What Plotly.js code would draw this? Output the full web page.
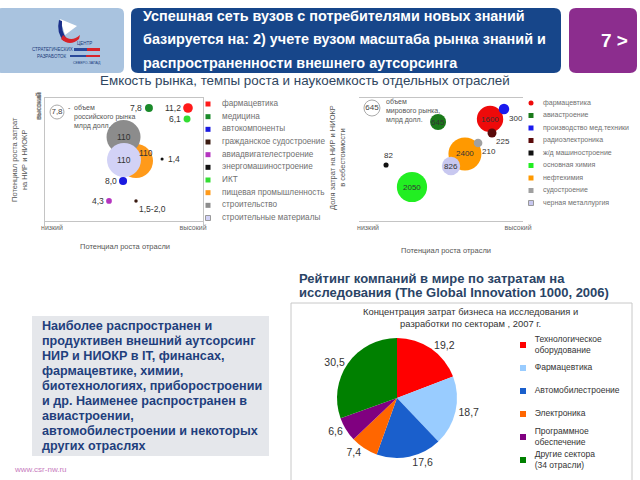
<!DOCTYPE html>
<html><head><meta charset="utf-8">
<script src="https://cdn.plot.ly/plotly-3.0.1.min.js"></script>
<style>html,body{margin:0;padding:0;background:#fff}#chart{width:640px;height:480px}</style>
</head><body><div id="chart"></div>
<script>
// ---------- Chart 1: Russian market ----------
const ruIndustries = ['фармацевтика','медицина','автокомпоненты','гражданское судостроение','авиадвигателестроение','энергомашиностроение','ИКТ','пищевая промышленность','строительство','строительные материалы'];
const ruGrowth = [9.05, 6.58, 4.94, 5.76, 4.05, 7.41, 8.99, 5.76, 4.97, 5.00];
const ruRnd    = [9.19, 9.19, 3.25, 1.63, 1.63, 5.04, 8.29, 4.88, 6.83, 4.96];
const ruMarket = [11.2, 7.8, 8.0, 1.75, 4.3, 1.4, 6.1, 110, 110, 110];
const ruLabels = ['11,2','7,8','8,0','1,5-2,0','4,3','1,4','6,1','110','110','110'];
const ruSample = 7.8;

// ---------- Chart 2: world market ----------
const wIndustries = ['фармацевтика','авиастроение','производство мед.техники','радиоэлектроника','ж/д машиностроение','основная химия','нефтехимия','судостроение','черная металлургия'];
const wGrowth = [7.99, 4.82, 8.84, 8.11, 1.65, 3.23, 6.46, 7.26, 5.61];
const wRnd    = [8.32, 8.09, 9.08, 7.25, 4.81, 3.13, 5.65, 6.49, 4.73];
const wMarket = [1600, 645, 300, 225, 82, 2050, 2400, 210, 826];
const wSample = 645;

// ---------- Pie: business R&D by sector, 2007 ----------
const sectors = ['Технологическое<br>оборудование','Фармацевтика','Автомобилестроение','Электроника','Программное<br>обеспечение','Другие сектора<br>(34 отрасли)'];
const sectorShare = [19.2, 18.7, 17.6, 7.4, 6.6, 30.5];

// ---------- texts ----------
const headerLines = ['Успешная сеть вузов с потребителями новых знаний','базируется на: 2) учете вузом масштаба рынка знаний и','распространенности внешнего аутсорсинга'];
const boxLines = ['Наиболее распространен и','продуктивен внешний аутсорсинг','НИР и НИОКР в IT, финансах,','фармацевтике, химии,','биотехнологиях, приборостроении','и др. Наименее распространен в','авиастроении,','автомобилестроении и некоторых','других отраслях'];
const rightTitle = ['Рейтинг компаний в мире по затратам на','исследования (The Global Innovation 1000, 2006)'];

// ---------- styles ----------
const ruColors = ['#ff1a1a','#1a8a2a','#1a1ae0','#3a1a10','#b535c0','#111111','#33dd33','#ff9a1a','#8c8c8c','#d2d2f6'];
const ruLabelPos = ['l','l','l','br','l','r','l','ne','c','c'];
const wColors = ['#ee0a0a','#1a7a1a','#1a1aee','#5a0a0a','#111111','#22ee22','#ff9900','#a0a0a0','#c8c8f0'];
const wLabelPos = ['c','c','br','br','t','c','c','br','c'];
const pieColors = ['#ff0000','#99ccff','#1a5fcc','#ff6600','#800080','#008000'];

const FONT = 'Liberation Sans, Arial, sans-serif';
const W = 640, H = 480;
const px = x => x / W, py = y => 1 - y / H;
const size1 = v => 2.56 * Math.pow(v, 0.55);
const size2 = v => 0.456 * Math.pow(v, 0.55);

function rrect(x0, y0, x1, y1, r) {
  return `M${px(x0 + r)},${py(y0)} L${px(x1 - r)},${py(y0)} Q${px(x1)},${py(y0)} ${px(x1)},${py(y0 + r)} ` +
    `L${px(x1)},${py(y1 - r)} Q${px(x1)},${py(y1)} ${px(x1 - r)},${py(y1)} L${px(x0 + r)},${py(y1)} ` +
    `Q${px(x0)},${py(y1)} ${px(x0)},${py(y1 - r)} L${px(x0)},${py(y0 + r)} Q${px(x0)},${py(y0)} ${px(x0 + r)},${py(y0)} Z`;
}
function pathPx(cmds) {
  return cmds.map(c => c[0] + (c.length > 1 ? ' ' + c.slice(1).reduce((a, v, i) => a + (i % 2 === 0 ? px(v) : ',' + py(v) + ' '), '') : '')).join(' ');
}
function ann(text, x, y, size, color, opts) {
  return Object.assign({text: text, x: px(x), y: py(y), xref: 'paper', yref: 'paper', showarrow: false,
    xanchor: 'center', yanchor: 'middle', align: 'left', font: {family: FONT, size: size, color: color}}, opts || {});
}

function bubbleLabels(xs, ys, labels, vals, pos, sizeFn, xr, yr, fsize) {
  return labels.map((t, i) => {
    const r = sizeFn(vals[i]) / 2;
    const a = {x: xs[i], y: ys[i], xref: xr, yref: yr, text: t, showarrow: false,
      font: {family: FONT, size: fsize, color: '#333'}, xanchor: 'center', yanchor: 'middle'};
    const p = pos[i];
    if (p === 'l') { a.xanchor = 'right'; a.xshift = -(r + 0.5); }
    else if (p === 'r') { a.xanchor = 'left'; a.xshift = r + 2; }
    else if (p === 'br') { a.xanchor = 'left'; a.yanchor = 'top'; a.xshift = 0.5 * r; a.yshift = -0.5 * r; }
    else if (p === 't') { a.yanchor = 'bottom'; a.yshift = r; a.xshift = 2; }
    else if (p === 'ne') { a.xshift = 0.6 * r; a.yshift = 0.45 * r; }
    return a;
  });
}

const idx = arr => arr.map((_, i) => i);

const traces = [
  {type: 'scatter', mode: 'markers', x: ruGrowth, y: ruRnd, xaxis: 'x', yaxis: 'y', cliponaxis: false, hoverinfo: 'skip',
   marker: {size: ruMarket.map(size1), color: ruColors, opacity: 1, line: {width: 0}}},
  {type: 'scatter', mode: 'markers+text', x: [0.76], y: [8.86], xaxis: 'x', yaxis: 'y', cliponaxis: false, hoverinfo: 'skip',
   text: [String(ruSample).replace('.', ',')], textposition: 'middle center', textfont: {family: FONT, size: 8, color: '#444'},
   marker: {size: 14, color: '#fff', line: {color: '#aaa', width: 1}}},
  {type: 'scatter', mode: 'markers', x: wGrowth, y: wRnd, xaxis: 'x2', yaxis: 'y2', cliponaxis: false, hoverinfo: 'skip',
   marker: {size: wMarket.map(size2), color: wColors, opacity: 1, line: {width: 0}}},
  {type: 'scatter', mode: 'markers+text', x: [0.79], y: [9.16], xaxis: 'x2', yaxis: 'y2', cliponaxis: false, hoverinfo: 'skip',
   text: [String(wSample)], textposition: 'middle center', textfont: {family: FONT, size: 8, color: '#444'},
   marker: {size: 16, color: '#fff', line: {color: '#aaa', width: 1}}},
  // legend 1
  {type: 'scatter', mode: 'markers', x: ruIndustries.map(() => 0), y: idx(ruIndustries), xaxis: 'x3', yaxis: 'y3', cliponaxis: false, hoverinfo: 'skip',
   marker: {symbol: 'square', size: 5, color: ruColors, line: {color: '#999', width: ruColors.map((c, i) => i === ruColors.length - 1 ? 1 : 0)}}},
  {type: 'scatter', mode: 'text', x: ruIndustries.map(() => 1.15), y: idx(ruIndustries), xaxis: 'x3', yaxis: 'y3', cliponaxis: false, hoverinfo: 'skip',
   text: ruIndustries, textposition: 'middle right', textfont: {family: FONT, size: 8.2, color: '#707070'}},
  // legend 2
  {type: 'scatter', mode: 'markers', x: wIndustries.map(() => 0), y: idx(wIndustries), xaxis: 'x4', yaxis: 'y4', cliponaxis: false, hoverinfo: 'skip',
   marker: {symbol: wIndustries.map((_, i) => i === 0 ? 'circle' : 'square'), size: 5, color: wColors,
            line: {color: '#999', width: wColors.map((c, i) => i === wColors.length - 1 ? 1 : 0)}}},
  {type: 'scatter', mode: 'text', x: wIndustries.map(() => 1.1), y: idx(wIndustries), xaxis: 'x4', yaxis: 'y4', cliponaxis: false, hoverinfo: 'skip',
   text: wIndustries, textposition: 'middle right', textfont: {family: FONT, size: 7, color: '#707070'}},
  // pie
  {type: 'pie', values: sectorShare, labels: sectors, sort: false, direction: 'clockwise', rotation: 0,
   marker: {colors: pieColors, line: {width: 0}}, textposition: 'outside', texttemplate: '%{value:.1f}',
   textfont: {family: FONT, size: 10.5, color: '#333'}, hoverinfo: 'skip', showlegend: false,
   domain: {x: [px(337), px(457)], y: [py(458), py(338)]}},
  // legend 3
  {type: 'scatter', mode: 'markers', x: sectors.map(() => 0), y: idx(sectors), xaxis: 'x5', yaxis: 'y5', cliponaxis: false, hoverinfo: 'skip',
   marker: {symbol: 'square', size: 6, color: pieColors}},
  {type: 'scatter', mode: 'text', x: sectors.map(() => 1.0), y: idx(sectors), xaxis: 'x5', yaxis: 'y5', cliponaxis: false, hoverinfo: 'skip',
   text: sectors, textposition: 'middle right', textfont: {family: FONT, size: 8.5, color: '#333'}}
];

const boxAxis = {showgrid: false, zeroline: false, showline: true, mirror: true, linecolor: '#c4c4c4', linewidth: 1,
  ticks: '', tickfont: {family: FONT, size: 7, color: '#666'}, fixedrange: true};
const hidden = {visible: false, fixedrange: true};

const annotations = []
  .concat(headerLines.map((t, i) => ann('<b>' + t + '</b>', 141, 16 + 23.5 * i, 14.4, '#fff', {xanchor: 'left'})))
  .concat([
    ann('<b>7 ></b>', 614, 40, 19, '#fff'),
    ann('Емкость рынка, темпы роста и наукоемкость отдельных отраслей', 305, 81, 13.4, '#2f4660'),
    ann('ЦЕНТР', 84, 43, 4.5, '#1a3a7a'),
    ann('СТРАТЕГИЧЕСКИХ', 52, 50, 4.5, '#1a3a7a'),
    ann('РАЗРАБОТОК', 52, 56, 4.5, '#1a3a7a'),
    ann('СЕВЕРО-ЗАПАД', 87, 63, 3.5, '#1a3a7a'),
    // chart 1 texts
    ann('-', 66, 108, 7, '#555', {xanchor: 'left'}),
    ann('объем<br>российского рынка<br>млрд долл.', 72, 117, 7, '#555', {xanchor: 'left'}),
    ann('Потенциал роста отрасли', 125, 247, 7.5, '#555'),
    ann('Потенциал роста затрат<br>на НИР и НИОКР', 20, 160, 7.5, '#555', {textangle: -90, align: 'center'}),
    // chart 2 texts
    ann('объем<br>мирового рынка,<br>млрд долл.', 384, 111, 7, '#555', {xanchor: 'left'}),
    ann('Потенциал роста отрасли', 446, 250, 7.5, '#555'),
    ann('Доля затрат на НИР и НИОКР<br>в себестоимости', 338, 158, 7.5, '#555', {textangle: -90, align: 'center'}),
    ann('www.csr-nw.ru', 12, 469, 8, '#c77bbd', {xanchor: 'left'}),
    ann('Концентрация затрат бизнеса на исследования и<br>разработки по секторам , 2007 г.', 470, 317, 9.4, '#333', {align: 'center'})
  ])
  .concat(boxLines.map((t, i) => ann('<b>' + t + '</b>', 40, 326 + 15 * i, 12.6, '#1f3f7d', {xanchor: 'left'})))
  .concat(rightTitle.map((t, i) => ann('<b>' + t + '</b>', 297, 278 + 14 * i, 13, '#2a4466', {xanchor: 'left'})))
  .concat(bubbleLabels(ruGrowth, ruRnd, ruLabels, ruMarket, ruLabelPos, size1, 'x', 'y', 8.5))
  .concat(bubbleLabels(wGrowth, wRnd, wMarket.map(String), wMarket, wLabelPos, size2, 'x2', 'y2', 8));

const shapes = [
  {type: 'path', path: rrect(-4, 8, 124, 73, 6), xref: 'paper', yref: 'paper', fillcolor: '#a9c3df', line: {width: 0}},
  {type: 'path', path: rrect(131, 8, 561, 73, 7), xref: 'paper', yref: 'paper', fillcolor: '#17468a', line: {width: 0}},
  {type: 'path', path: rrect(569, 8, 637, 73, 7), xref: 'paper', yref: 'paper', fillcolor: '#8c2d8e', line: {width: 0}},
  {type: 'path', path: pathPx([['M', 60, 19], ['L', 77, 26], ['L', 65, 35], ['Z']]), xref: 'paper', yref: 'paper', fillcolor: '#ffffff', line: {width: 0}},
  {type: 'path', path: pathPx([['M', 59, 20], ['Q', 56, 33, 64, 41], ['L', 67, 39], ['Q', 61, 32, 62, 21], ['Z']]), xref: 'paper', yref: 'paper', fillcolor: '#1a2f8a', line: {width: 0}},
  {type: 'path', path: pathPx([['M', 63, 35], ['Q', 71, 43, 80, 35], ['L', 79, 39], ['Q', 70, 47, 61, 39], ['Z']]), xref: 'paper', yref: 'paper', fillcolor: '#d8232a', line: {width: 0}},
  {type: 'rect', x0: px(74), x1: px(87), y0: py(51), y1: py(48), xref: 'paper', yref: 'paper', fillcolor: '#2a4a9a', line: {width: 0}},
  {type: 'rect', x0: px(87), x1: px(100), y0: py(51), y1: py(48), xref: 'paper', yref: 'paper', fillcolor: '#d8232a', line: {width: 0}},
  {type: 'rect', x0: px(70), x1: px(86), y0: py(57), y1: py(55), xref: 'paper', yref: 'paper', fillcolor: '#2a4a9a', line: {width: 0}},
  {type: 'rect', x0: px(86), x1: px(100), y0: py(57), y1: py(55), xref: 'paper', yref: 'paper', fillcolor: '#d8232a', line: {width: 0}},
  {type: 'rect', x0: px(32), x1: px(269), y0: py(456), y1: py(316), xref: 'paper', yref: 'paper', fillcolor: '#e5e7eb', line: {width: 0}, layer: 'below'},
  {type: 'rect', x0: px(291), x1: px(632), y0: py(486), y1: py(303), xref: 'paper', yref: 'paper', fillcolor: 'rgba(0,0,0,0)', line: {color: '#c8c8c8', width: 1}}
];

const layout = {
  width: W, height: H, margin: {l: 0, r: 0, t: 0, b: 0}, paper_bgcolor: '#fff', plot_bgcolor: 'rgba(0,0,0,0)',
  showlegend: false, separators: ', ', font: {family: FONT},
  xaxis: Object.assign({}, boxAxis, {domain: [px(45), px(203)], range: [0, 10], tickvals: [0.44, 9.37], ticktext: ['низкий', 'высокий']}),
  yaxis: Object.assign({}, boxAxis, {domain: [py(221), py(98)], range: [0, 10], tickvals: [9.3], ticktext: ['высокий'], tickangle: -90}),
  xaxis2: Object.assign({}, boxAxis, {domain: [px(359), px(523)], range: [0, 10], tickvals: [0.55, 9.7], ticktext: ['низкий', 'высокий']}),
  yaxis2: Object.assign({}, boxAxis, {domain: [py(228), py(97)], range: [0, 10], tickvals: [9.2], ticktext: ['высокий'], tickangle: -90}),
  xaxis3: Object.assign({}, hidden, {domain: [px(208), px(330)], range: [0, 10]}),
  yaxis3: Object.assign({}, hidden, {domain: [py(218), py(104)], range: [9, 0]}),
  xaxis4: Object.assign({}, hidden, {domain: [px(531), px(640)], range: [0, 10]}),
  yaxis4: Object.assign({}, hidden, {domain: [py(203), py(103)], range: [8, 0]}),
  xaxis5: Object.assign({}, hidden, {domain: [px(523), px(640)], range: [0, 10]}),
  yaxis5: Object.assign({}, hidden, {domain: [py(460), py(345)], range: [5, 0]}),
  annotations: annotations, shapes: shapes
};

Plotly.newPlot('chart', traces, layout, {staticPlot: true, displayModeBar: false});
</script>
</body></html>
